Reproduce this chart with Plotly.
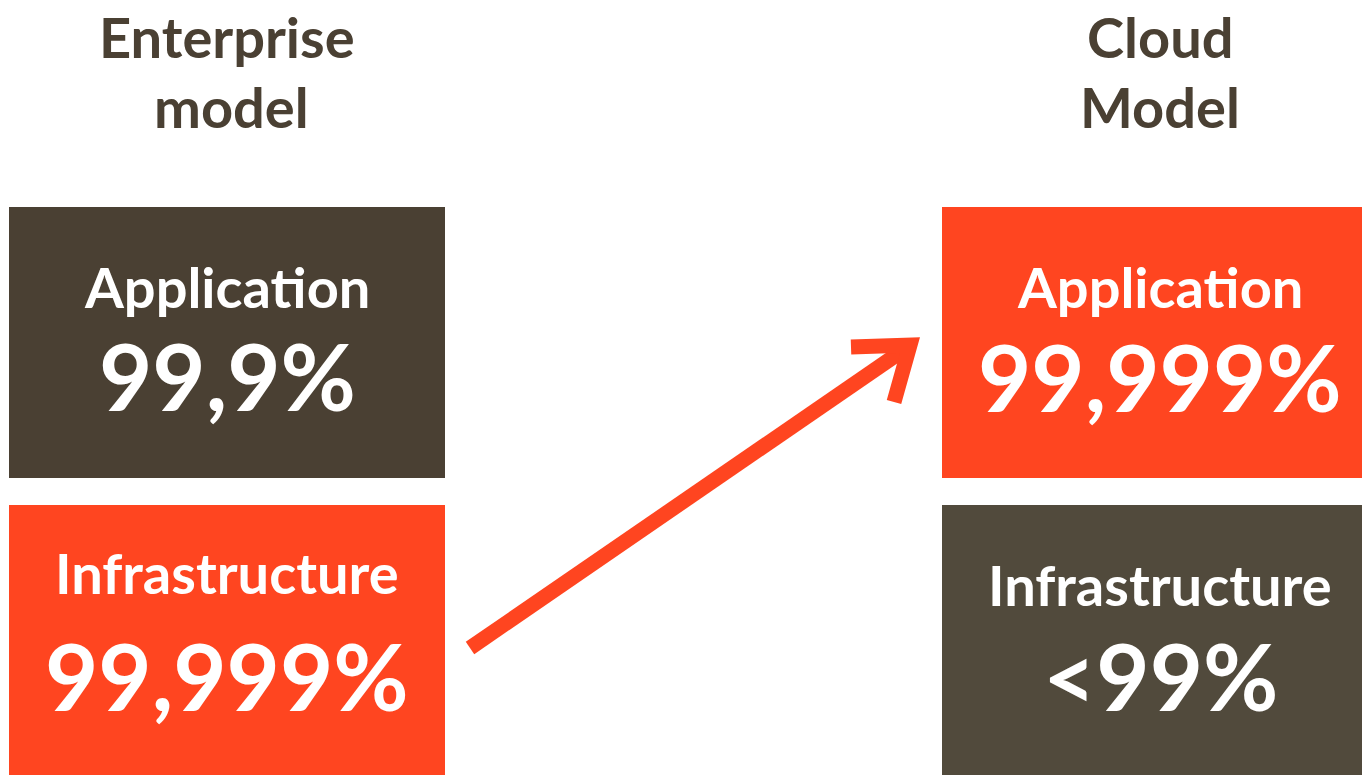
import plotly.graph_objects as go

# ---- data ----
models = ["Enterprise\nmodel", "Cloud\nModel"]
layers = ["Application", "Infrastructure"]
enterprise_values = ["99,9%", "99,999%"]
cloud_values = ["99,999%", "<99%"]
enterprise_colors = ["#4a4033", "#ff4520"]
cloud_colors = ["#ff4520", "#514a3c"]

# ---- layout constants (pixels) ----
W, H = 1362, 775
DARK = "#4a4033"
ORANGE = "#ff4520"
FONT = "Lato"

col_x = [(9, 445), (942, 1362)]
row_y = [(207, 478), (505, 775)]
label_cy = [[289, 575], [289, 587]]
value_cy = [[377, 677], [378, 677]]
title_cy = [36, 106]
col_cx = [227, 1160]

fig = go.Figure()

shapes = []
annotations = []

def add_text(x, y, text, size, color, dy):
    annotations.append(dict(
        x=x, y=y + dy, xref="x", yref="y", text=text, showarrow=False,
        xanchor="center", yanchor="middle",
        font=dict(family=FONT, size=size, color=color, weight="bold"),
    ))

for ci, (vals, cols) in enumerate([(enterprise_values, enterprise_colors), (cloud_values, cloud_colors)]):
    x0, x1 = col_x[ci]
    for ri in range(2):
        y0, y1 = row_y[ri]
        shapes.append(dict(type="rect", xref="x", yref="y", x0=x0, x1=x1, y0=y0, y1=y1,
                           fillcolor=cols[ri], line=dict(width=0), layer="below"))
        add_text(col_cx[ci], label_cy[ci][ri], layers[ri], 56, "white", -3)
        add_text(col_cx[ci], value_cy[ci][ri], vals[ri], 92, "white", -2)
    for li, line in enumerate(models[ci].split("\n")):
        add_text(col_cx[ci] + (4 if (ci == 0 and li == 1) else 0), title_cy[li], line, 56, DARK, 0)

# arrow: shaft and chevron
arrow_shaft_x = [470, 905]
arrow_shaft_y = [648, 349]
fig.add_trace(go.Scatter(x=arrow_shaft_x, y=arrow_shaft_y, mode="lines",
                         line=dict(color=ORANGE, width=15), hoverinfo="skip", showlegend=False))
chev_x = [851, 910, 894]
chev_y = [347, 345, 402]
fig.add_trace(go.Scatter(x=chev_x, y=chev_y, mode="lines",
                         line=dict(color=ORANGE, width=15), hoverinfo="skip", showlegend=False))

fig.update_layout(
    width=W, height=H, margin=dict(l=0, r=0, t=0, b=0),
    paper_bgcolor="white", plot_bgcolor="white",
    xaxis=dict(range=[0, W], visible=False, fixedrange=True),
    yaxis=dict(range=[H, 0], visible=False, fixedrange=True),
    shapes=shapes, annotations=annotations, showlegend=False,
)

fig.write_html("out.html", config={"displayModeBar": False})
